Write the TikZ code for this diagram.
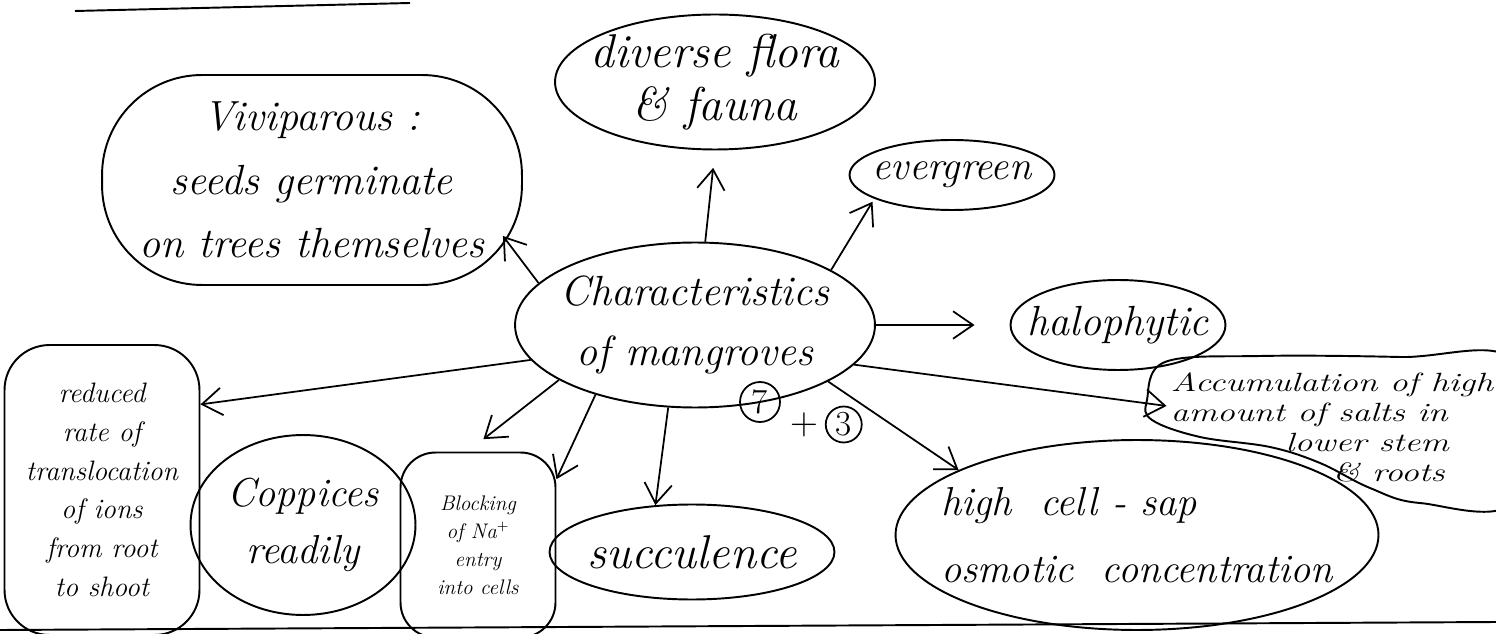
\documentclass[tikz,border=0pt]{standalone}
\usepackage{graphicx}
\usepackage{tikz}
\usetikzlibrary{arrows.meta,shapes.geometric,positioning,calc}

% handwriting-ish text: size and line skip
\newcommand{\penfont}[2]{\fontsize{#1}{#2}\selectfont\itshape}

\begin{document}
\begin{tikzpicture}[
    x=0.02cm, y=-0.02cm,
    line width=1.1pt,
    topic/.style={ellipse, draw, align=center, inner sep=-0.5cm},
    blob/.style={rectangle, rounded corners=0.9cm, draw, align=center, inner sep=0pt},
    score/.style={circle, draw, line width=1pt, inner sep=0pt, minimum size=0.8cm,
                  font=\fontsize{20}{20}\selectfont},
    arrow/.style={-{Straight Barb[length=4mm,width=5.5mm]}, line width=1pt}
]
\useasboundingbox (0,0) rectangle (1496,634);

% Page rules
\draw (75,11) -- (410,3);
\draw (0,630) -- (1496,622);

% Centre
\node[topic, minimum width=7.2cm, minimum height=3.3cm, font=\penfont{24}{34}] (core) at (695,325)
    {Characteristics\\of mangroves};
\node[score] (seven) at (760,402) {7};
\node[right=0.05cm of seven, yshift=-0.45cm, font=\fontsize{22}{22}\selectfont] (plus) {+};
\node[score, minimum size=0.72cm, right=0cm of plus] (three) {3};

% Surrounding ideas
\node[blob, rounded corners=2cm, minimum width=8.4cm, minimum height=4.2cm, font=\penfont{24}{36}] (vivi) at (312,180)
    {Viviparous :\\seeds germinate\\on trees themselves};
\node[topic, minimum width=6.4cm, minimum height=2.7cm, font=\penfont{27}{30}] (flora) at (715,82)
    {diverse flora\\\& fauna};
\node[topic, minimum width=4.1cm, minimum height=1.4cm, font=\penfont{23}{23}] (green) at (952,175)
    {evergreen};
\node[topic, minimum width=4.3cm, minimum height=1.8cm, font=\penfont{24}{24}] (halo) at (1118,325)
    {halophytic};
\node[anchor=north west, align=left, inner sep=0pt, font=\penfont{15}{17}] (accum) at (1170,370)
    {\scalebox{1.35}[1]{\begin{tabular}{@{}l@{}}Accumulation of high\\amount of salts in\\\hspace*{1.7cm}lower stem\\\hspace*{2.4cm}\& roots\end{tabular}}};
\draw plot[smooth cycle, tension=0.6] coordinates
    {(1147,400) (1165,362) (1260,356) (1400,357) (1515,362) (1515,500)
     (1420,503) (1370,488) (1320,463) (1270,447) (1200,437) (1152,420)};
\node[topic, minimum width=8.5cm, minimum height=3.8cm, align=left, font=\penfont{23}{38}] (sap) at (1137,535)
    {high \ cell - sap\\osmotic \ concentration};
\node[topic, minimum width=5.7cm, minimum height=1.9cm, font=\penfont{27}{27}] (succ) at (692,552)
    {succulence};
\node[blob, rounded corners=0.7cm, minimum width=3.1cm, minimum height=3.7cm, font=\penfont{12}{16}] (block) at (478,545)
    {Blocking\\of Na$^+$\\entry\\into cells};
\node[topic, minimum width=4.5cm, minimum height=3.6cm, font=\penfont{23}{32}] (copp) at (303,525)
    {Coppices\\readily};
\node[blob, rounded corners=0.9cm, minimum width=3.9cm, minimum height=5.8cm, font=\penfont{16}{22}] (reduce) at (102,490)
    {reduced\\rate of\\translocation\\of ions\\from root\\to shoot};

% Arrows out of the centre
\draw[arrow] (core.165) -- ($(vivi.south east)+(-20,-50)$);
\draw[arrow, shorten >=0.35cm] (core.83) -- (flora.south);
\draw[arrow, shorten >=2pt] (core.22) -- (green.197);
\draw[arrow, shorten >=0.7cm] (core.east) -- (halo.west);
\draw[arrow, shorten >=2pt] (core.-14) -- ($(accum.north west)!0.3!(accum.south west)$);
\draw[arrow] (core.-23) -- (sap.160);
\draw[arrow] (core.-108) -- (succ.128);
\draw[arrow] (core.-145) -- (block.40);
\draw[arrow, shorten >=1.85cm] (core.202) -- (copp.15);
\draw[arrow] (core.192) -- (reduce.41);

\end{tikzpicture}
\end{document}
